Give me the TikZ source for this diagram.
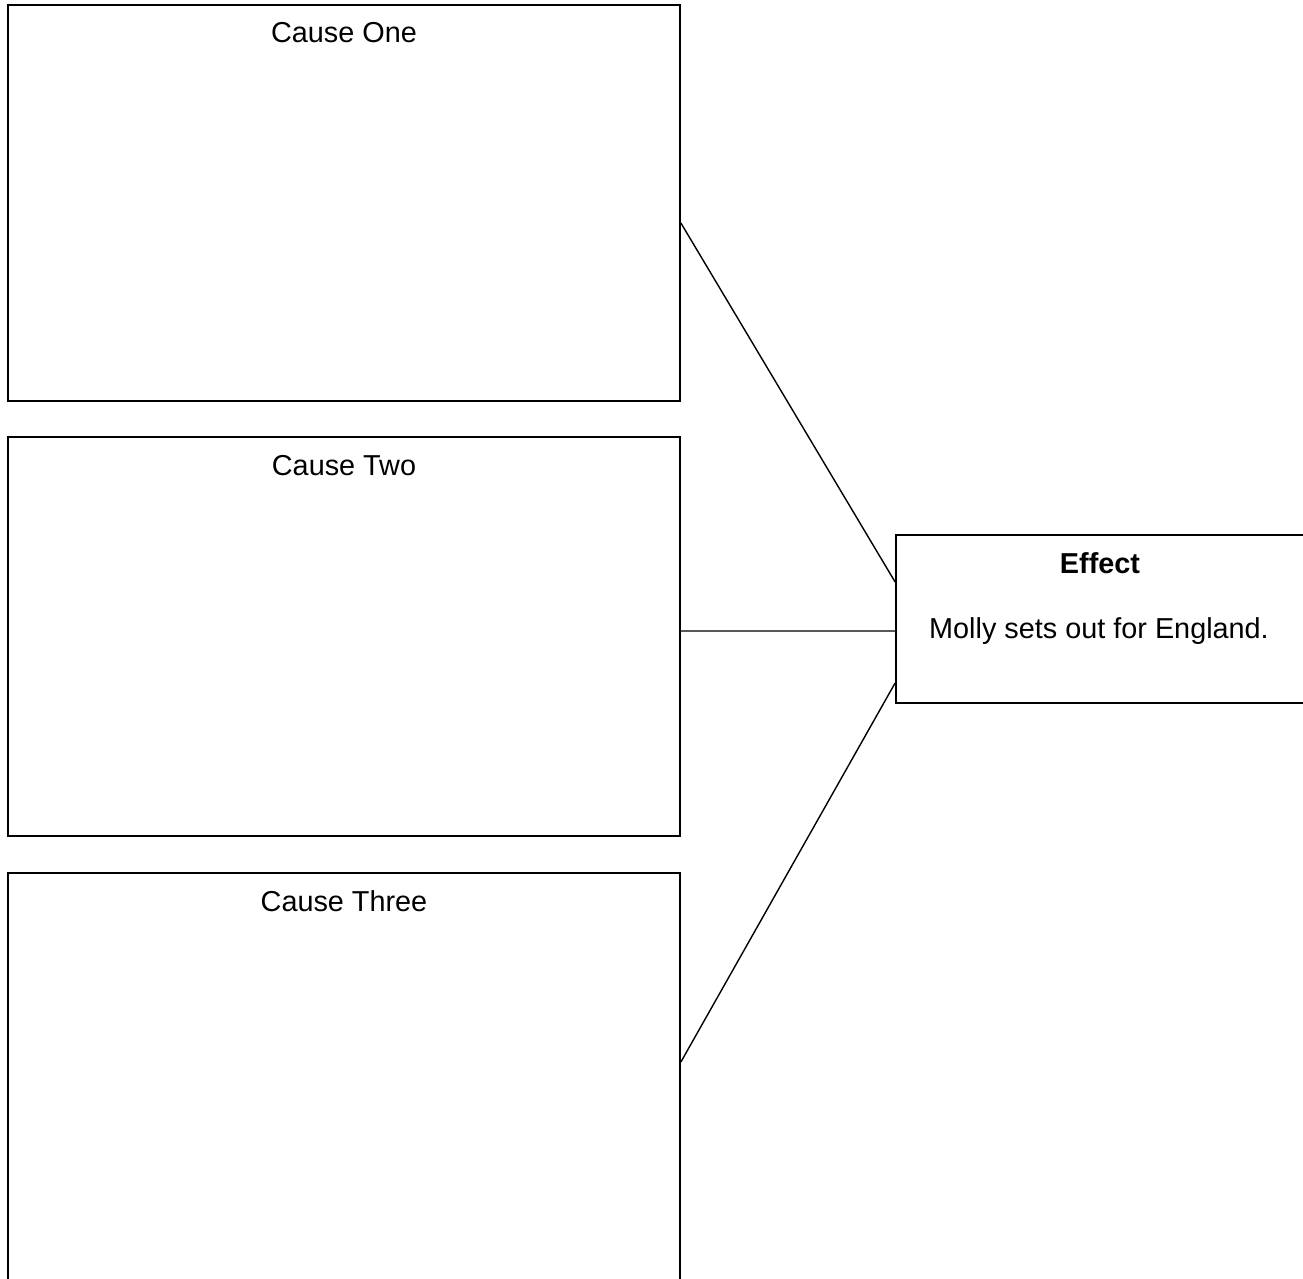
\documentclass[tikz,border=0pt]{standalone}
\usepackage{fontspec}
\setmainfont{Liberation Sans}
\usepackage{tikz}
\usetikzlibrary{positioning}

\tikzset{causebox/.style={rectangle,draw=black,line width=1pt,minimum width=13.44cm,inner sep=0pt},
         txt/.style={font=\fontsize{16.4}{19}\selectfont}}

\begin{document}
\begin{tikzpicture}
\useasboundingbox (0,0) rectangle (26.06,-25.58);
\node[causebox,minimum height=7.92cm] (c1) at (6.88,-4.06){};
\node[txt] (t1) at (6.88,-0.66){Cause One};
\node[causebox,minimum height=7.98cm] (c2) at (6.88,-12.73){};
\node[txt] (t2) at (6.88,-9.32){Cause Two};
\node[causebox,minimum height=8.54cm] (c3) at (6.88,-21.73){};
\node[txt] (t3) at (6.88,-18.02){Cause Three};
\node[rectangle,draw=black,line width=1pt,minimum width=8.2cm,minimum height=3.36cm,inner sep=0pt] (ef) at (22.02,-12.38){};
\node[txt,font=\fontsize{16.4}{19}\selectfont\bfseries] (eft) at (22.0,-11.26){Effect};
\node[txt] (efm) at (21.98,-12.62){Molly sets out for England.};
    \draw[line width=0.8pt] ([yshift=-0.4cm]c1.east) -- ([yshift=0.74cm]ef.west);
    \draw[line width=0.8pt] ([yshift=0.11cm]c2.east) -- ([yshift=-0.24cm]ef.west);
    \draw[line width=0.8pt] ([yshift=0.49cm]c3.east) -- ([yshift=-1.28cm]ef.west);
\end{tikzpicture}
\end{document}
